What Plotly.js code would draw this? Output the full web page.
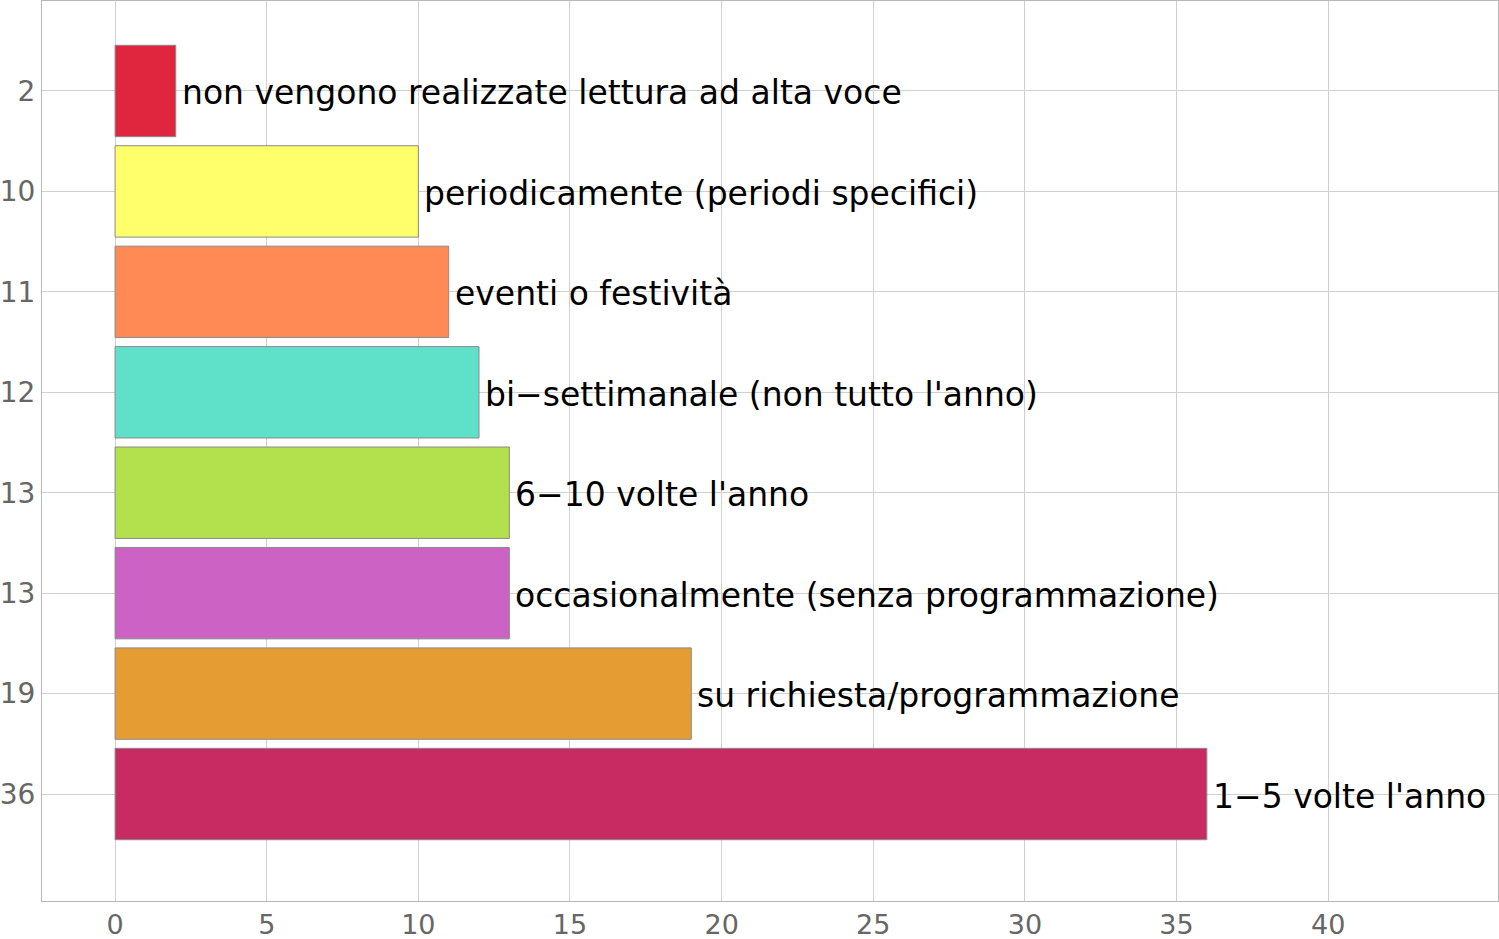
<!DOCTYPE html>
<html>
<head>
<meta charset="utf-8">
<script src="https://cdn.plot.ly/plotly-3.0.1.min.js"></script>
<style>html,body{margin:0;padding:0;background:#fff;}#chart{width:1499px;height:939px;}</style>
</head>
<body>
<div id="chart"></div>
<script>
const categories = [
  "non vengono realizzate lettura ad alta voce",
  "periodicamente (periodi specifici)",
  "eventi o festività",
  "bi−settimanale (non tutto l'anno)",
  "6−10 volte l'anno",
  "occasionalmente (senza programmazione)",
  "su richiesta/programmazione",
  "1−5 volte l'anno"
];
const values = [2, 10, 11, 12, 13, 13, 19, 36];
const colors = ["#E0263F", "#FFFF6B", "#FF8A55", "#5FE0C8", "#B3E04D", "#CC62C3", "#E59D33", "#C82A62"];
const xTicks = [0, 5, 10, 15, 20, 25, 30, 35, 40];

const positions = categories.map((c, i) => i);

const trace = {
  type: "bar",
  orientation: "h",
  x: values,
  y: positions,
  width: 0.91,
  marker: {color: colors, line: {color: "#8a8a8a", width: 1}},
  hoverinfo: "x"
};

const annotations = categories.map((c, i) => ({
  x: values[i],
  y: positions[i],
  xref: "x",
  yref: "y",
  text: c,
  showarrow: false,
  xanchor: "left",
  yanchor: "middle",
  xshift: 4,
  yshift: -2,
  font: {family: "DejaVu Sans, sans-serif", size: 33, color: "#000"}
}));

const layout = {
  width: 1499,
  height: 939,
  margin: {l: 42, r: 1, t: 1, b: 38},
  paper_bgcolor: "#fff",
  plot_bgcolor: "#fff",
  showlegend: false,
  annotations: annotations,
  xaxis: {
    range: [-2.41, 45.6],
    tickvals: xTicks,
    ticktext: xTicks.map(String),
    showgrid: true,
    gridcolor: "#d0d0d0",
    gridwidth: 1,
    zeroline: false,
    showline: true,
    linecolor: "#b8b8b8",
    linewidth: 1,
    mirror: true,
    ticks: "",
    tickfont: {family: "DejaVu Sans, sans-serif", size: 27, color: "#666"}
  },
  yaxis: {
    range: [8.065, -0.896],
    tickvals: positions,
    ticktext: values.map(String),
    showgrid: true,
    gridcolor: "#d0d0d0",
    gridwidth: 1,
    zeroline: false,
    showline: true,
    linecolor: "#b8b8b8",
    linewidth: 1,
    mirror: true,
    ticks: "",
    ticklen: 0,
    tickfont: {family: "DejaVu Sans, sans-serif", size: 28, color: "#666"}
  }
};

Plotly.newPlot("chart", [trace], layout, {displayModeBar: false, staticPlot: true});
</script>
</body>
</html>
